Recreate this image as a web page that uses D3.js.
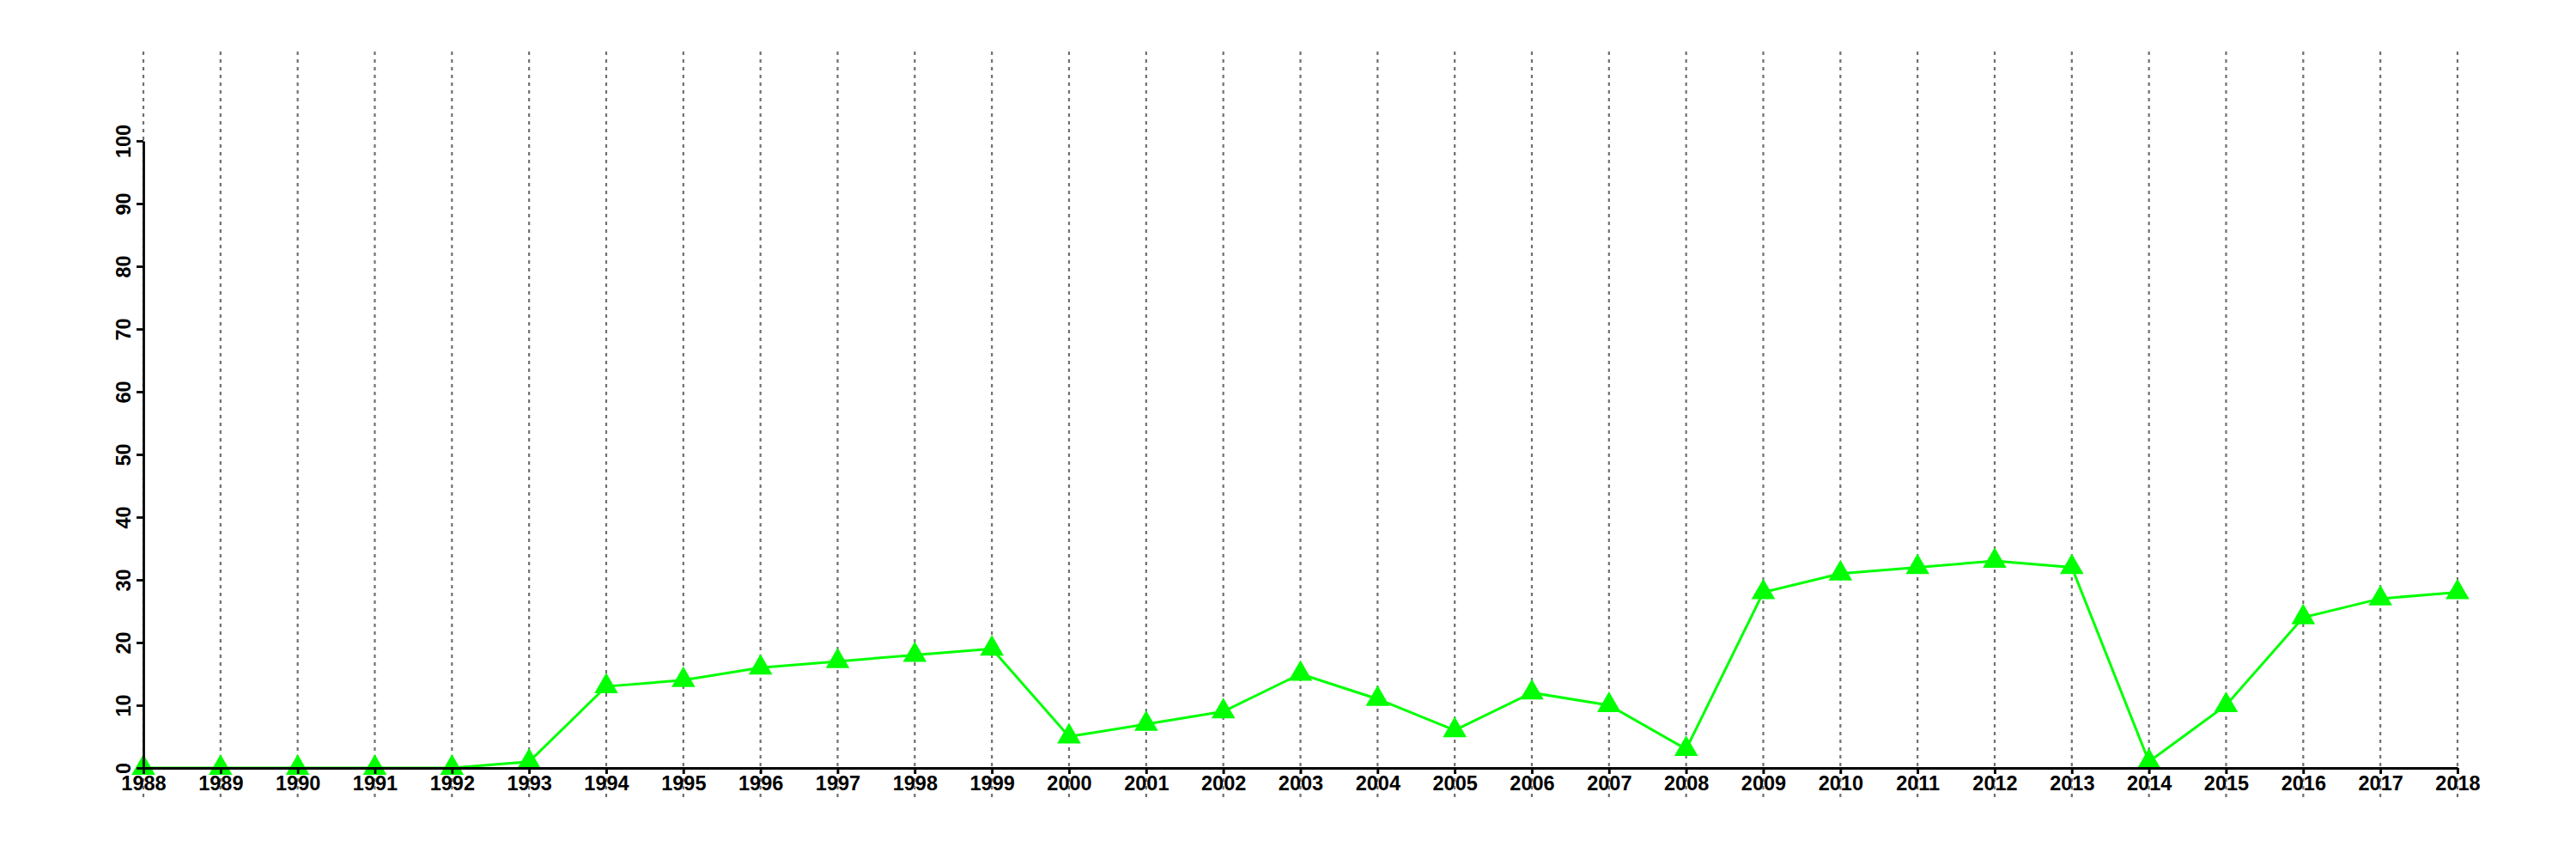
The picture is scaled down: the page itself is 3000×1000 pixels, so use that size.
<!DOCTYPE html>
<html><head><meta charset="utf-8">
<script src="https://cdn.jsdelivr.net/npm/d3@7"></script>
<style>html,body{margin:0;padding:0;background:#fff;}svg{display:block;}</style>
</head><body>
<svg id="chart" width="3000" height="1000"></svg>
<script>
const years = [1988,1989,1990,1991,1992,1993,1994,1995,1996,1997,1998,1999,2000,2001,2002,2003,2004,2005,2006,2007,2008,2009,2010,2011,2012,2013,2014,2015,2016,2017,2018];
const values = [0,0,0,0,0,1,13,14,16,17,18,19,5,7,9,15,11,6,12,10,3,28,31,32,33,32,1,10,24,27,28];
const yTicks = [0,10,20,30,40,50,60,70,80,90,100];

const svg = d3.select("#chart");
const x = d3.scaleLinear().domain([1988,2018]).range([167,2862]);
const y = d3.scaleLinear().domain([0,100]).range([894,164]);
const font = "'Liberation Sans', Arial, sans-serif";

// vertical dotted gridlines
svg.append("g").selectAll("line").data(years).join("line")
  .attr("x1", d=>x(d)).attr("x2", d=>x(d))
  .attr("y1", 60).attr("y2", 928)
  .attr("stroke", "#707070").attr("stroke-width", 2.2)
  .attr("stroke-dasharray", "4,5");

// data line
const line = d3.line().x((d,i)=>x(years[i])).y(d=>y(d));
svg.append("path").datum(values).attr("d", line)
  .attr("fill","none").attr("stroke","#00ff00").attr("stroke-width",3);

// triangle markers
const tri = d3.symbol().type(d3.symbolTriangle).size(330);
svg.append("g").selectAll("path").data(values).join("path")
  .attr("d", tri)
  .attr("transform", (d,i)=>`translate(${x(years[i])},${y(d)})`)
  .attr("fill","#00ff00");

// x axis
const xAxis = svg.append("g").attr("transform","translate(0,894)")
  .call(d3.axisBottom(x).tickValues(years).tickFormat(d3.format("d")).tickSize(7).tickSizeOuter(0));
xAxis.select(".domain").attr("stroke","#000").attr("stroke-width",2.8);
xAxis.selectAll(".tick line").attr("stroke","#000").attr("stroke-width",2.8);
xAxis.selectAll(".tick text").attr("font-family",font).attr("font-weight","bold")
  .attr("font-size",23.5).attr("fill","#000").attr("dy",null).attr("y",26);

// y axis
const yAxis = svg.append("g").attr("transform","translate(167,0)")
  .call(d3.axisLeft(y).tickValues(yTicks).tickSize(8).tickSizeOuter(0));
yAxis.select(".domain").attr("stroke","#000").attr("stroke-width",2.8);
yAxis.selectAll(".tick line").attr("stroke","#000").attr("stroke-width",2.8);
yAxis.selectAll(".tick text").attr("font-family",font).attr("font-weight","bold")
  .attr("font-size",23.5).attr("fill","#000")
  .attr("x",null).attr("dy",null).attr("y",null)
  .attr("text-anchor","middle")
  .attr("transform","translate(-15,0) rotate(-90)");
</script>
</body></html>
